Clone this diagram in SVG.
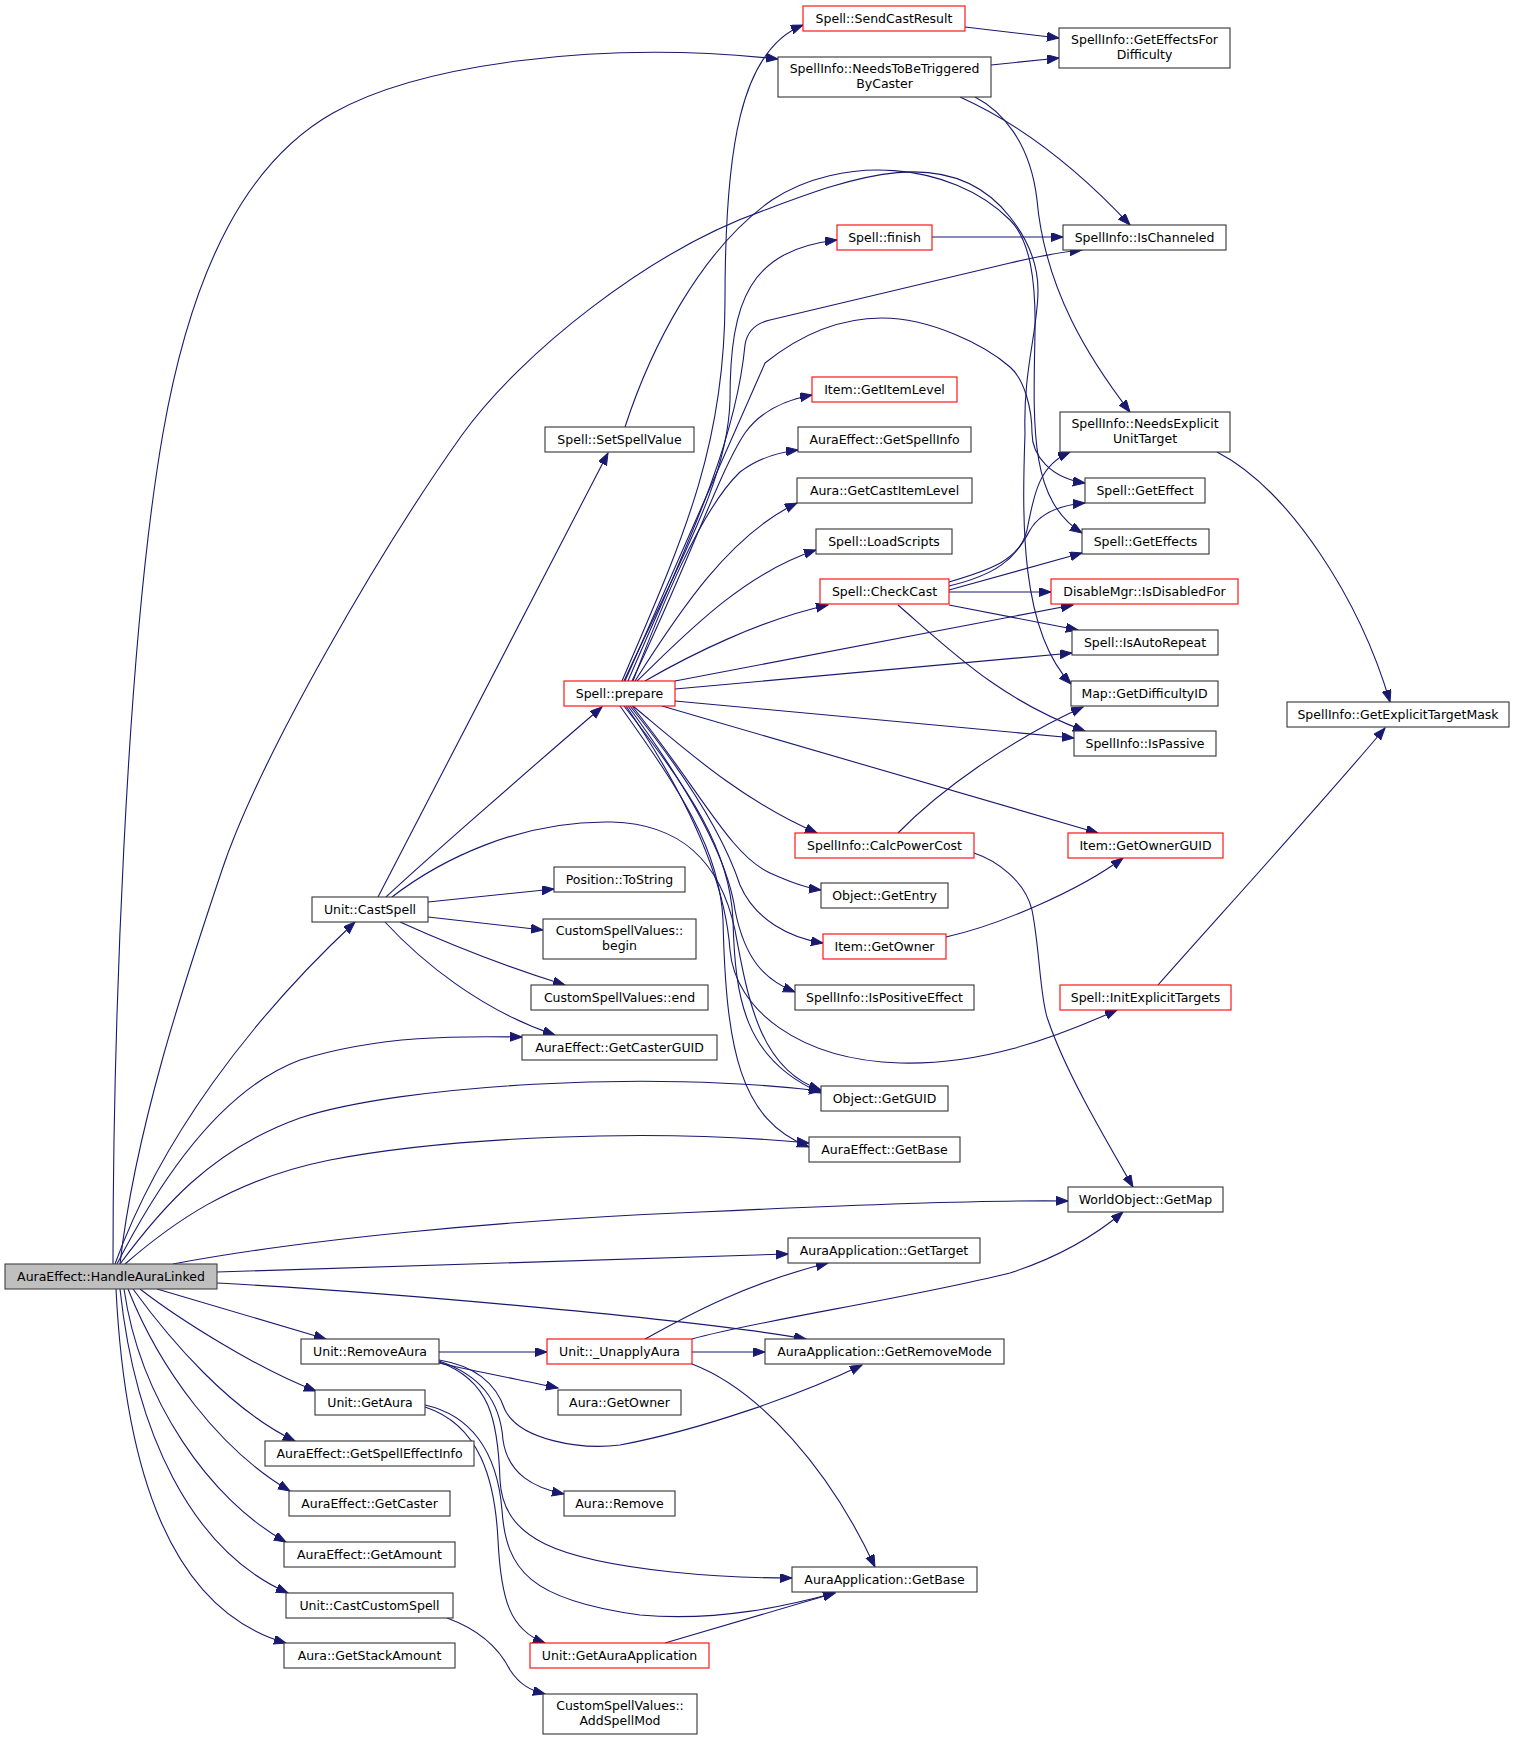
<svg xmlns="http://www.w3.org/2000/svg" width="1515" height="1741" viewBox="0 0 1515 1741">
<defs>
<style>
.n rect{fill:#fff;stroke:#333;stroke-width:1.1}
.n.r rect{stroke:#ff0000}
.n.root rect{fill:#bfbfbf;stroke:#404040}
.n text{font-family:"DejaVu Sans","Liberation Sans",sans-serif;font-size:12.5px;fill:#000;text-anchor:middle}
#edges path{fill:none;stroke:#191970;stroke-width:1.1;marker-end:url(#ah)}
</style>
<marker id="ah" markerUnits="userSpaceOnUse" markerWidth="13" markerHeight="10" refX="12" refY="4.5" orient="auto">
<path d="M0,0 L12,4.5 L0,9 z" fill="#191970" stroke="#191970" stroke-width="1"/>
</marker>
</defs>
<rect width="1515" height="1741" fill="#fff"/>
<g id="edges">
<path d="M113,1264 C113,1050 125,650 163,433 C193,262 250,160 333,113 C420,64 600,40 778,59"/>
<path d="M120,1264 C135,1130 185,980 222,870 C260,757 380,550 462,435 C520,354 650,250 765,210 C850,178 950,140 1010,217 C1025,236 1038,260 1038,290 C1038,330 1023,370 1025,433 C1022,520 1020,630 1071,684"/>
<path d="M625,427 C650,350 700,250 772,200 C840,155 950,160 1010,220 C1030,240 1036,280 1035,333 C1033,430 1030,500 1082,533"/>
<path d="M625,681 L765,363 C800,335 840,318 882,318 C930,318 985,345 1010,367 C1025,380 1032,410 1032,433 C1032,455 1050,478 1085,483"/>
<path d="M628,681 C680,560 735,450 745,345 Q748,325 770,320 L1010,263 C1040,256 1060,252 1082,250"/>
<path d="M622,681 C680,545 725,450 725,300 C725,150 740,50 803,25"/>
<path d="M624,681 C680,560 728,480 730,400 C730,300 750,250 837,240"/>
<path d="M632,681 C690,560 720,470 745,433 C760,412 785,400 812,395"/>
<path d="M633,681 C660,610 700,510 740,472 C760,457 780,452 798,450"/>
<path d="M635,681 C680,610 730,535 797,503"/>
<path d="M637,681 C680,640 740,575 816,550"/>
<path d="M645,681 C690,655 760,620 828,605"/>
<path d="M675,681 L1073,605"/>
<path d="M675,689 L1072,653"/>
<path d="M675,701 L1074,738"/>
<path d="M662,706 L1098,833"/>
<path d="M633,706 C680,745 740,800 817,833"/>
<path d="M632,706 C700,790 730,855 770,873 C790,882 805,888 821,890"/>
<path d="M630,706 C690,780 725,840 740,885 C755,920 790,938 823,943"/>
<path d="M628,706 C690,790 728,860 735,910 C745,960 765,980 795,992"/>
<path d="M626,706 C690,800 725,880 730,950 C735,1010 800,1060 900,1063 C980,1065 1050,1040 1117,1010"/>
<path d="M624,706 C690,790 730,850 733,920 C735,1000 745,1060 821,1093"/>
<path d="M620,706 C680,790 720,850 723,920 C726,1050 740,1120 809,1147"/>
<path d="M378,897 L608,453"/>
<path d="M386,897 C420,865 540,760 602,707"/>
<path d="M392,897 C440,860 520,820 612,822 C680,824 720,860 735,930 C748,1000 760,1070 821,1090"/>
<path d="M428,902 L554,889"/>
<path d="M428,917 L543,930"/>
<path d="M400,922 C440,940 500,965 565,985"/>
<path d="M385,922 C420,960 480,1010 555,1035"/>
<path d="M115,1264 C160,1140 250,1020 355,922"/>
<path d="M117,1264 C160,1180 220,1090 300,1060 C380,1035 460,1036 522,1037"/>
<path d="M120,1264 C160,1210 210,1150 300,1118 C400,1085 650,1070 821,1091"/>
<path d="M125,1264 C170,1225 230,1180 330,1160 C450,1137 650,1128 809,1143"/>
<path d="M173,1264 C300,1240 500,1220 700,1212 C850,1205 1000,1200 1068,1201"/>
<path d="M217,1272 L788,1254"/>
<path d="M217,1283 C400,1293 700,1320 806,1339"/>
<path d="M157,1289 L326,1339"/>
<path d="M140,1289 C180,1320 260,1370 316,1391"/>
<path d="M133,1289 C170,1340 230,1410 295,1441"/>
<path d="M128,1289 C160,1370 220,1450 290,1491"/>
<path d="M124,1289 C140,1400 210,1500 286,1542"/>
<path d="M120,1289 C135,1430 190,1550 288,1593"/>
<path d="M116,1289 C125,1470 170,1610 286,1643"/>
<path d="M439,1352 L547,1352"/>
<path d="M439,1363 C470,1370 520,1380 558,1388"/>
<path d="M439,1360 C470,1365 495,1380 505,1410 C520,1440 580,1450 620,1445 C700,1430 800,1395 862,1365"/>
<path d="M439,1361 C480,1375 500,1400 503,1440 C508,1475 535,1488 564,1494"/>
<path d="M439,1362 C490,1380 498,1420 500,1480 C503,1540 560,1560 672,1572 C720,1577 760,1578 792,1578"/>
<path d="M425,1405 C470,1415 497,1450 502,1510 C506,1570 530,1600 640,1615 C720,1622 790,1605 835,1593"/>
<path d="M425,1407 C480,1425 495,1480 498,1540 C501,1600 510,1630 545,1643"/>
<path d="M665,1643 L835,1593"/>
<path d="M447,1618 C480,1630 500,1650 510,1670 C520,1685 530,1690 545,1694"/>
<path d="M692,1352 L765,1352"/>
<path d="M645,1339 C680,1320 740,1285 828,1263"/>
<path d="M692,1339 C760,1320 900,1300 1010,1273 C1050,1260 1090,1240 1123,1212"/>
<path d="M692,1364 C760,1390 830,1470 875,1567"/>
<path d="M949,582 C990,570 1020,560 1027,530 C1035,490 1040,465 1070,452"/>
<path d="M949,586 C995,575 1015,560 1030,530 C1040,513 1060,505 1085,503"/>
<path d="M949,590 L1082,553"/>
<path d="M949,592 L1051,592"/>
<path d="M949,605 L1078,630"/>
<path d="M898,605 C950,650 1000,700 1085,731"/>
<path d="M898,833 C940,790 1010,740 1083,707"/>
<path d="M974,853 C995,860 1025,880 1032,910 C1040,950 1040,1000 1048,1020 C1065,1070 1100,1130 1133,1187"/>
<path d="M946,937 C1000,925 1080,890 1123,858"/>
<path d="M1158,985 C1220,915 1320,805 1385,728"/>
<path d="M1217,452 C1290,490 1360,600 1390,702"/>
<path d="M965,27 L1059,38"/>
<path d="M991,65 L1059,58"/>
<path d="M960,97 C1000,115 1060,150 1130,225"/>
<path d="M975,97 C1000,110 1030,140 1037,200 C1045,290 1090,360 1130,412"/>
<path d="M932,237 L1063,237"/>
</g>
<g id="n1" class="n root"><rect x="5" y="1264" width="212" height="25"/><text x="111" y="1281">AuraEffect::HandleAuraLinked</text></g>
<g id="n2" class="n"><rect x="778" y="57" width="213" height="40"/><text x="884.5" y="73">SpellInfo::NeedsToBeTriggered</text><text x="884.5" y="88">ByCaster</text></g>
<g id="n3" class="n r"><rect x="803" y="6" width="162" height="25"/><text x="884" y="23">Spell::SendCastResult</text></g>
<g id="n4" class="n"><rect x="1059" y="28" width="171" height="40"/><text x="1144.5" y="44">SpellInfo::GetEffectsFor</text><text x="1144.5" y="59">Difficulty</text></g>
<g id="n5" class="n r"><rect x="837" y="225" width="95" height="25"/><text x="884.5" y="242">Spell::finish</text></g>
<g id="n6" class="n"><rect x="1063" y="225" width="163" height="25"/><text x="1144.5" y="242">SpellInfo::IsChanneled</text></g>
<g id="n7" class="n r"><rect x="812" y="377" width="145" height="25"/><text x="884.5" y="394">Item::GetItemLevel</text></g>
<g id="n8" class="n"><rect x="545" y="427" width="149" height="25"/><text x="619.5" y="444">Spell::SetSpellValue</text></g>
<g id="n9" class="n"><rect x="798" y="427" width="173" height="25"/><text x="884.5" y="444">AuraEffect::GetSpellInfo</text></g>
<g id="n10" class="n"><rect x="1060" y="412" width="170" height="40"/><text x="1145" y="428">SpellInfo::NeedsExplicit</text><text x="1145" y="443">UnitTarget</text></g>
<g id="n11" class="n"><rect x="797" y="478" width="175" height="25"/><text x="884.5" y="495">Aura::GetCastItemLevel</text></g>
<g id="n12" class="n"><rect x="1085" y="478" width="120" height="25"/><text x="1145" y="495">Spell::GetEffect</text></g>
<g id="n13" class="n"><rect x="816" y="529" width="136" height="25"/><text x="884" y="546">Spell::LoadScripts</text></g>
<g id="n14" class="n"><rect x="1082" y="529" width="127" height="25"/><text x="1145.5" y="546">Spell::GetEffects</text></g>
<g id="n15" class="n r"><rect x="820" y="579" width="129" height="25"/><text x="884.5" y="596">Spell::CheckCast</text></g>
<g id="n16" class="n r"><rect x="1051" y="579" width="187" height="25"/><text x="1144.5" y="596">DisableMgr::IsDisabledFor</text></g>
<g id="n17" class="n"><rect x="1072" y="630" width="146" height="25"/><text x="1145" y="647">Spell::IsAutoRepeat</text></g>
<g id="n18" class="n r"><rect x="564" y="681" width="111" height="25"/><text x="619.5" y="698">Spell::prepare</text></g>
<g id="n19" class="n"><rect x="1071" y="681" width="147" height="25"/><text x="1144.5" y="698">Map::GetDifficultyID</text></g>
<g id="n20" class="n"><rect x="1287" y="702" width="222" height="25"/><text x="1398" y="719">SpellInfo::GetExplicitTargetMask</text></g>
<g id="n21" class="n"><rect x="1074" y="731" width="142" height="25"/><text x="1145" y="748">SpellInfo::IsPassive</text></g>
<g id="n22" class="n r"><rect x="795" y="833" width="179" height="25"/><text x="884.5" y="850">SpellInfo::CalcPowerCost</text></g>
<g id="n23" class="n r"><rect x="1068" y="833" width="155" height="25"/><text x="1145.5" y="850">Item::GetOwnerGUID</text></g>
<g id="n24" class="n"><rect x="554" y="867" width="131" height="25"/><text x="619.5" y="884">Position::ToString</text></g>
<g id="n25" class="n"><rect x="821" y="883" width="127" height="25"/><text x="884.5" y="900">Object::GetEntry</text></g>
<g id="n26" class="n"><rect x="312" y="897" width="116" height="25"/><text x="370" y="914">Unit::CastSpell</text></g>
<g id="n27" class="n"><rect x="543" y="919" width="153" height="40"/><text x="619.5" y="935">CustomSpellValues::</text><text x="619.5" y="950">begin</text></g>
<g id="n28" class="n r"><rect x="823" y="934" width="123" height="25"/><text x="884.5" y="951">Item::GetOwner</text></g>
<g id="n29" class="n"><rect x="531" y="985" width="177" height="25"/><text x="619.5" y="1002">CustomSpellValues::end</text></g>
<g id="n30" class="n"><rect x="795" y="985" width="179" height="25"/><text x="884.5" y="1002">SpellInfo::IsPositiveEffect</text></g>
<g id="n31" class="n r"><rect x="1060" y="985" width="171" height="25"/><text x="1145.5" y="1002">Spell::InitExplicitTargets</text></g>
<g id="n32" class="n"><rect x="522" y="1035" width="195" height="25"/><text x="619.5" y="1052">AuraEffect::GetCasterGUID</text></g>
<g id="n33" class="n"><rect x="821" y="1086" width="127" height="25"/><text x="884.5" y="1103">Object::GetGUID</text></g>
<g id="n34" class="n"><rect x="809" y="1137" width="151" height="25"/><text x="884.5" y="1154">AuraEffect::GetBase</text></g>
<g id="n35" class="n"><rect x="1068" y="1187" width="155" height="25"/><text x="1145.5" y="1204">WorldObject::GetMap</text></g>
<g id="n36" class="n"><rect x="788" y="1238" width="192" height="25"/><text x="884" y="1255">AuraApplication::GetTarget</text></g>
<g id="n37" class="n"><rect x="301" y="1339" width="138" height="25"/><text x="370" y="1356">Unit::RemoveAura</text></g>
<g id="n38" class="n r"><rect x="547" y="1339" width="145" height="25"/><text x="619.5" y="1356">Unit::_UnapplyAura</text></g>
<g id="n39" class="n"><rect x="765" y="1339" width="239" height="25"/><text x="884.5" y="1356">AuraApplication::GetRemoveMode</text></g>
<g id="n40" class="n"><rect x="315" y="1390" width="110" height="25"/><text x="370" y="1407">Unit::GetAura</text></g>
<g id="n41" class="n"><rect x="558" y="1390" width="123" height="25"/><text x="619.5" y="1407">Aura::GetOwner</text></g>
<g id="n42" class="n"><rect x="265" y="1441" width="209" height="25"/><text x="369.5" y="1458">AuraEffect::GetSpellEffectInfo</text></g>
<g id="n43" class="n"><rect x="289" y="1491" width="161" height="25"/><text x="369.5" y="1508">AuraEffect::GetCaster</text></g>
<g id="n44" class="n"><rect x="564" y="1491" width="111" height="25"/><text x="619.5" y="1508">Aura::Remove</text></g>
<g id="n45" class="n"><rect x="284" y="1542" width="171" height="25"/><text x="369.5" y="1559">AuraEffect::GetAmount</text></g>
<g id="n46" class="n"><rect x="792" y="1567" width="185" height="25"/><text x="884.5" y="1584">AuraApplication::GetBase</text></g>
<g id="n47" class="n"><rect x="286" y="1593" width="167" height="25"/><text x="369.5" y="1610">Unit::CastCustomSpell</text></g>
<g id="n48" class="n"><rect x="284" y="1643" width="171" height="25"/><text x="369.5" y="1660">Aura::GetStackAmount</text></g>
<g id="n49" class="n r"><rect x="530" y="1643" width="179" height="25"/><text x="619.5" y="1660">Unit::GetAuraApplication</text></g>
<g id="n50" class="n"><rect x="543" y="1694" width="154" height="40"/><text x="620" y="1710">CustomSpellValues::</text><text x="620" y="1725">AddSpellMod</text></g>
</svg>
